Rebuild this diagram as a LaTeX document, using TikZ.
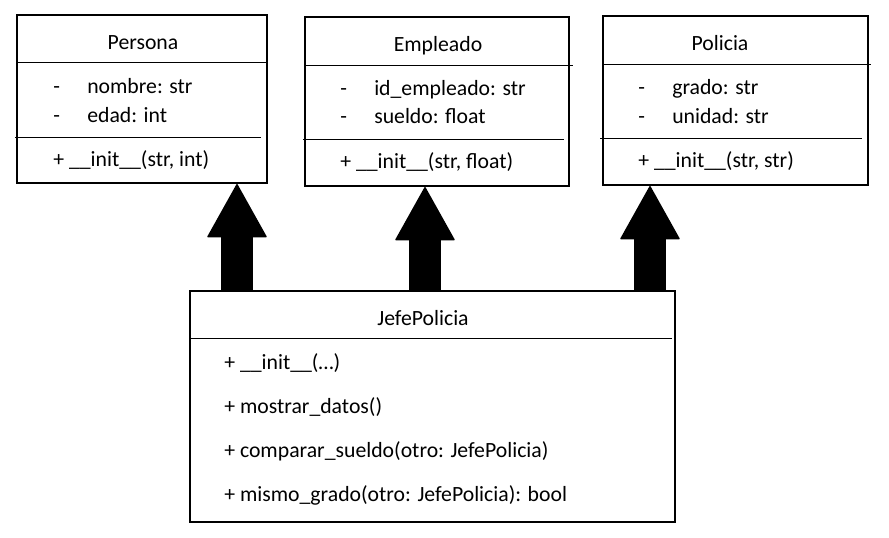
\documentclass[tikz,border=0pt]{standalone}
\usepackage{fontspec}
\setmainfont{Carlito}
\usetikzlibrary{arrows.meta, fit, positioning}
\tikzset{
  uml-box/.style={draw=black, line width=1.5pt, inner sep=0pt, fill=white},
  uml-title/.style={anchor=base, inner sep=0pt, font=\fontsize{16.3pt}{19pt}\selectfont},
  uml-line/.style={anchor=base west, inner sep=0pt, font=\fontsize{16.3pt}{19pt}\selectfont},
  uml-sep/.style={draw=black, line width=0.75pt},
  inh/.style={line width=24pt, draw=black,
    -{Triangle[width=45pt, length=40.5pt, line width=1pt, round]}},
}
\begin{document}
\begin{tikzpicture}[x=0.75pt, y=-0.75pt]
  \useasboundingbox (0,0) rectangle (889,537);

  % parent classes
  \node[uml-box, fit={(17,15) (267,183)}]   (persona)  {};
  \node[uml-box, fit={(305,17) (569,186)}]  (empleado) {};
  \node[uml-box, fit={(603,16) (868,185)}]  (policia)  {};
  % child class
  \node[uml-box, fit={(190,291) (675,522)}] (jefe)     {};

  % Persona
  \node[uml-title] (persona-t) at (143,49) {Persona};
  \draw[uml-sep] (17,62) -- (267,62);
  \node[uml-line] at (53,93)  {-};
  \node[uml-line] (persona-a1) at (87,93)  {nombre: str};
  \node[uml-line] at (53,122) {-};
  \node[uml-line] (persona-a2) at (87,122) {edad: int};
  \draw[uml-sep] (15,137) -- (261,137);
  \node[uml-line] (persona-m1) at (53,166) {+ \_\_init\_\_(str, int)};

  % Empleado
  \node[uml-title] (empleado-t) at (438,51) {Empleado};
  \draw[uml-sep] (305,65) -- (573,65);
  \node[uml-line] at (340,95)  {-};
  \node[uml-line] (empleado-a1) at (374,95)  {id\_empleado: str};
  \node[uml-line] at (340,123) {-};
  \node[uml-line] (empleado-a2) at (374,123) {sueldo: float};
  \draw[uml-sep] (303,139) -- (564,139);
  \node[uml-line] (empleado-m1) at (340,168) {+ \_\_init\_\_(str, float)};

  % Policia
  \node[uml-title] (policia-t) at (720,50) {Policia};
  \draw[uml-sep] (603,64) -- (871,64);
  \node[uml-line] at (638,94)  {-};
  \node[uml-line] (policia-a1) at (672,94)  {grado: str};
  \node[uml-line] at (638,123) {-};
  \node[uml-line] (policia-a2) at (672,123) {unidad: str};
  \draw[uml-sep] (600,138) -- (862,138);
  \node[uml-line] (policia-m1) at (638,167) {+ \_\_init\_\_(str, str)};

  % JefePolicia
  \node[uml-title] (jefe-t) at (423,325) {JefePolicia};
  \draw[uml-sep] (190,338) -- (672,338);
  \node[uml-line] (jefe-m1) at (224,369) {+ \_\_init\_\_(…)};
  \node[uml-line] (jefe-m2) at (224,413) {+ mostrar\_datos()};
  \node[uml-line] (jefe-m3) at (224,457) {+ comparar\_sueldo(otro: JefePolicia)};
  \node[uml-line] (jefe-m4) at (224,501) {+ mismo\_grado(otro: JefePolicia): bool};

  % inheritance arrows
  \coordinate (x-persona)  at (237,0);
  \coordinate (x-empleado) at (425,0);
  \coordinate (x-policia)  at (650,0);
  \draw[inh] (jefe.north -| x-persona)  -- (persona.south -| x-persona);
  \draw[inh] (jefe.north -| x-empleado) -- (empleado.south -| x-empleado);
  \draw[inh] (jefe.north -| x-policia)  -- (policia.south -| x-policia);
\end{tikzpicture}
\end{document}
